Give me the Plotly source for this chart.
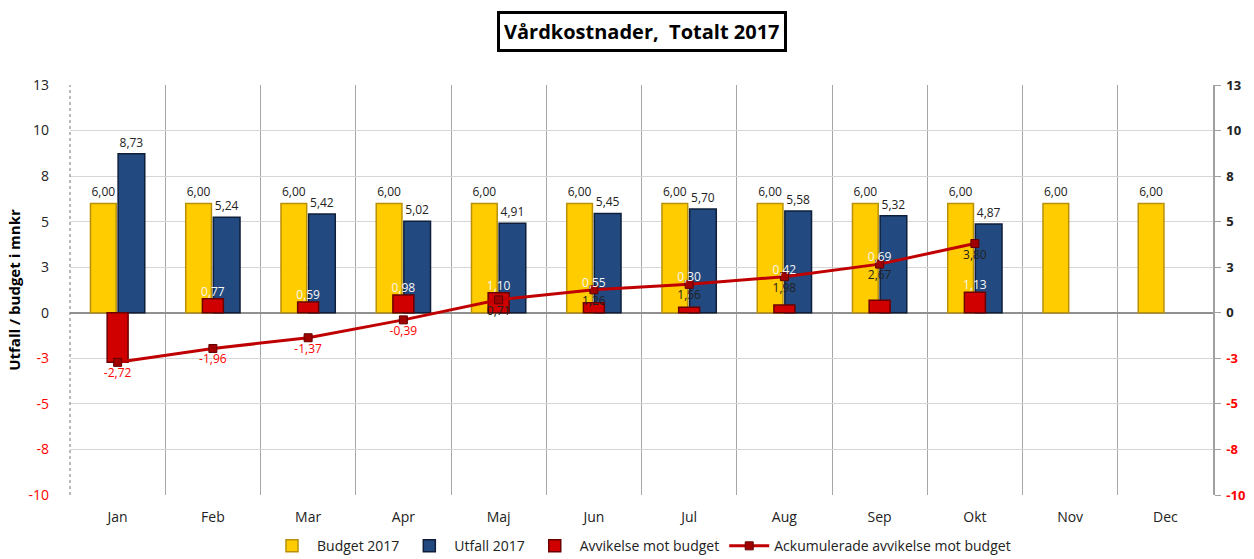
import plotly.graph_objects as go

months = ["Jan", "Feb", "Mar", "Apr", "Maj", "Jun", "Jul", "Aug", "Sep", "Okt", "Nov", "Dec"]
budget = [6.00, 6.00, 6.00, 6.00, 6.00, 6.00, 6.00, 6.00, 6.00, 6.00, 6.00, 6.00]
utfall = [8.73, 5.24, 5.42, 5.02, 4.91, 5.45, 5.70, 5.58, 5.32, 4.87, None, None]
avvikelse = [-2.72, 0.77, 0.59, 0.98, 1.10, 0.55, 0.30, 0.42, 0.69, 1.13, None, None]
ackumulerad = [-2.72, -1.96, -1.37, -0.39, 0.71, 1.26, 1.56, 1.98, 2.67, 3.80, None, None]

tick_vals = [-10, -7.5, -5, -2.5, 0, 2.5, 5, 7.5, 10, 12.5]
tick_text = ["-10", "-8", "-5", "-3", "0", "3", "5", "8", "10", "13"]

FONT = "Open Sans, Noto Sans, sans-serif"


def fmt(v):
    return "" if v is None else f"{v:.2f}".replace(".", ",")


left_ticks = [f'<span style="color:red">{t}</span>' if v < 0 else t for v, t in zip(tick_vals, tick_text)]
right_ticks = [f'<b><span style="color:red">{t}</span></b>' if v < 0 else f"<b>{t}</b>"
               for v, t in zip(tick_vals, tick_text)]

# Where the deviation label sits: above its bar, or above the cumulative point when that is close above the bar
avv_label_y = []
avv_label_txt = []
for a, c in zip(avvikelse, ackumulerad):
    if a is None or a < 0:
        avv_label_y.append(None)
        avv_label_txt.append("")
    else:
        avv_label_y.append(c if 0 < (c - a) < 2.2 else a)
        avv_label_txt.append(fmt(a))

fig = go.Figure()

fig.add_trace(go.Bar(
    x=months, y=budget, name="Budget 2017",
    marker=dict(color="#FFCC00", line=dict(color="#B8900A", width=1.5)),
    width=0.27, offset=-0.285,
    text=[fmt(v) for v in budget], textposition="outside",
    textfont=dict(color="#222222", size=12, family=FONT),
    cliponaxis=False,
))
fig.add_trace(go.Bar(
    x=months, y=utfall, name="Utfall 2017",
    marker=dict(color="#234A80", line=dict(color="#0F1F3A", width=1.5)),
    width=0.28, offset=0.005,
    text=[fmt(v) for v in utfall], textposition="outside",
    textfont=dict(color="#222222", size=12, family=FONT),
    cliponaxis=False,
))
fig.add_trace(go.Bar(
    x=months, y=avvikelse, name="Avvikelse mot budget",
    marker=dict(color="#D00000", line=dict(color="#6A0000", width=1.5)),
    width=0.22, offset=-0.11,
    cliponaxis=False,
))
fig.add_trace(go.Scatter(
    x=months, y=ackumulerad, name="Ackumulerade avvikelse mot budget",
    mode="lines+markers+text",
    line=dict(color="#C00000", width=3),
    marker=dict(symbol="square", size=8, color="#A00000", line=dict(color="#600000", width=1)),
    text=[fmt(v) for v in ackumulerad], textposition="bottom center",
    textfont=dict(color=["red" if (v is not None and v < 0) else "#222222" for v in ackumulerad],
                  size=12, family=FONT),
    cliponaxis=False,
))
# deviation value labels (white)
fig.add_trace(go.Scatter(
    x=months, y=avv_label_y, mode="text", text=avv_label_txt, textposition="top center",
    textfont=dict(color="#F6F6F6", size=12, family=FONT),
    showlegend=False, hoverinfo="skip", cliponaxis=False,
))
# invisible trace to activate right axis
fig.add_trace(go.Scatter(x=months, y=budget, yaxis="y2", mode="none", showlegend=False, hoverinfo="skip"))

fig.update_layout(
    width=1254, height=559,
    paper_bgcolor="white", plot_bgcolor="white",
    barmode="overlay",
    separators=", ",
    margin=dict(l=70, r=41, t=85, b=64, autoexpand=False),
    font=dict(family=FONT, size=13, color="#222222"),
    xaxis=dict(
        type="category", tickson="boundaries", showgrid=True, gridcolor="#A6A6A6", gridwidth=1,
        ticks="", showline=False, tickfont=dict(size=14, color="#222222"), ticklabelstandoff=12,
        range=[-0.5, 11.5], automargin=False,
    ),
    yaxis=dict(
        range=[-10, 12.5], tickvals=tick_vals, ticktext=left_ticks,
        showgrid=True, gridcolor="#D6D6D6", zeroline=True, zerolinecolor="#909090", zerolinewidth=1.5,
        showline=False, automargin=False,
        ticks="", tickfont=dict(size=14, color="#222222"), ticklabelstandoff=20,
        title=dict(text="<b>Utfall / budget i mnkr</b>", font=dict(size=15, color="black"), standoff=4),
    ),
    yaxis2=dict(
        range=[-10, 12.5], tickvals=tick_vals, ticktext=right_ticks, overlaying="y", side="right",
        showgrid=False, zeroline=False, showline=True, linecolor="#A0A0A0", linewidth=1.5,
        ticks="outside", ticklen=6, tickcolor="#A0A0A0", tickfont=dict(size=13, color="#222222"),
        ticklabelstandoff=3, automargin=False,
    ),
    legend=dict(
        orientation="h", x=0.5, xanchor="center", y=-0.125, yanchor="middle",
        font=dict(size=14, color="#222222"), itemwidth=40, tracegroupgap=0,
    ),
    shapes=[dict(type="line", xref="paper", yref="paper", x0=0, x1=0, y0=0, y1=1,
                 line=dict(color="#8C8C8C", width=1.2, dash="dot"))],
    annotations=[dict(
        text="<b>Vårdkostnader,  Totalt 2017</b>", x=0.5, xref="paper", y=1.13, yref="paper",
        yanchor="middle", showarrow=False, font=dict(size=20, color="black", family=FONT),
        bordercolor="black", borderwidth=3, borderpad=4, bgcolor="white",
    )],
)

fig.write_html("out.html", config={"displayModeBar": False},
               post_script="document.body.style.margin='0';document.body.style.overflow='hidden';")
